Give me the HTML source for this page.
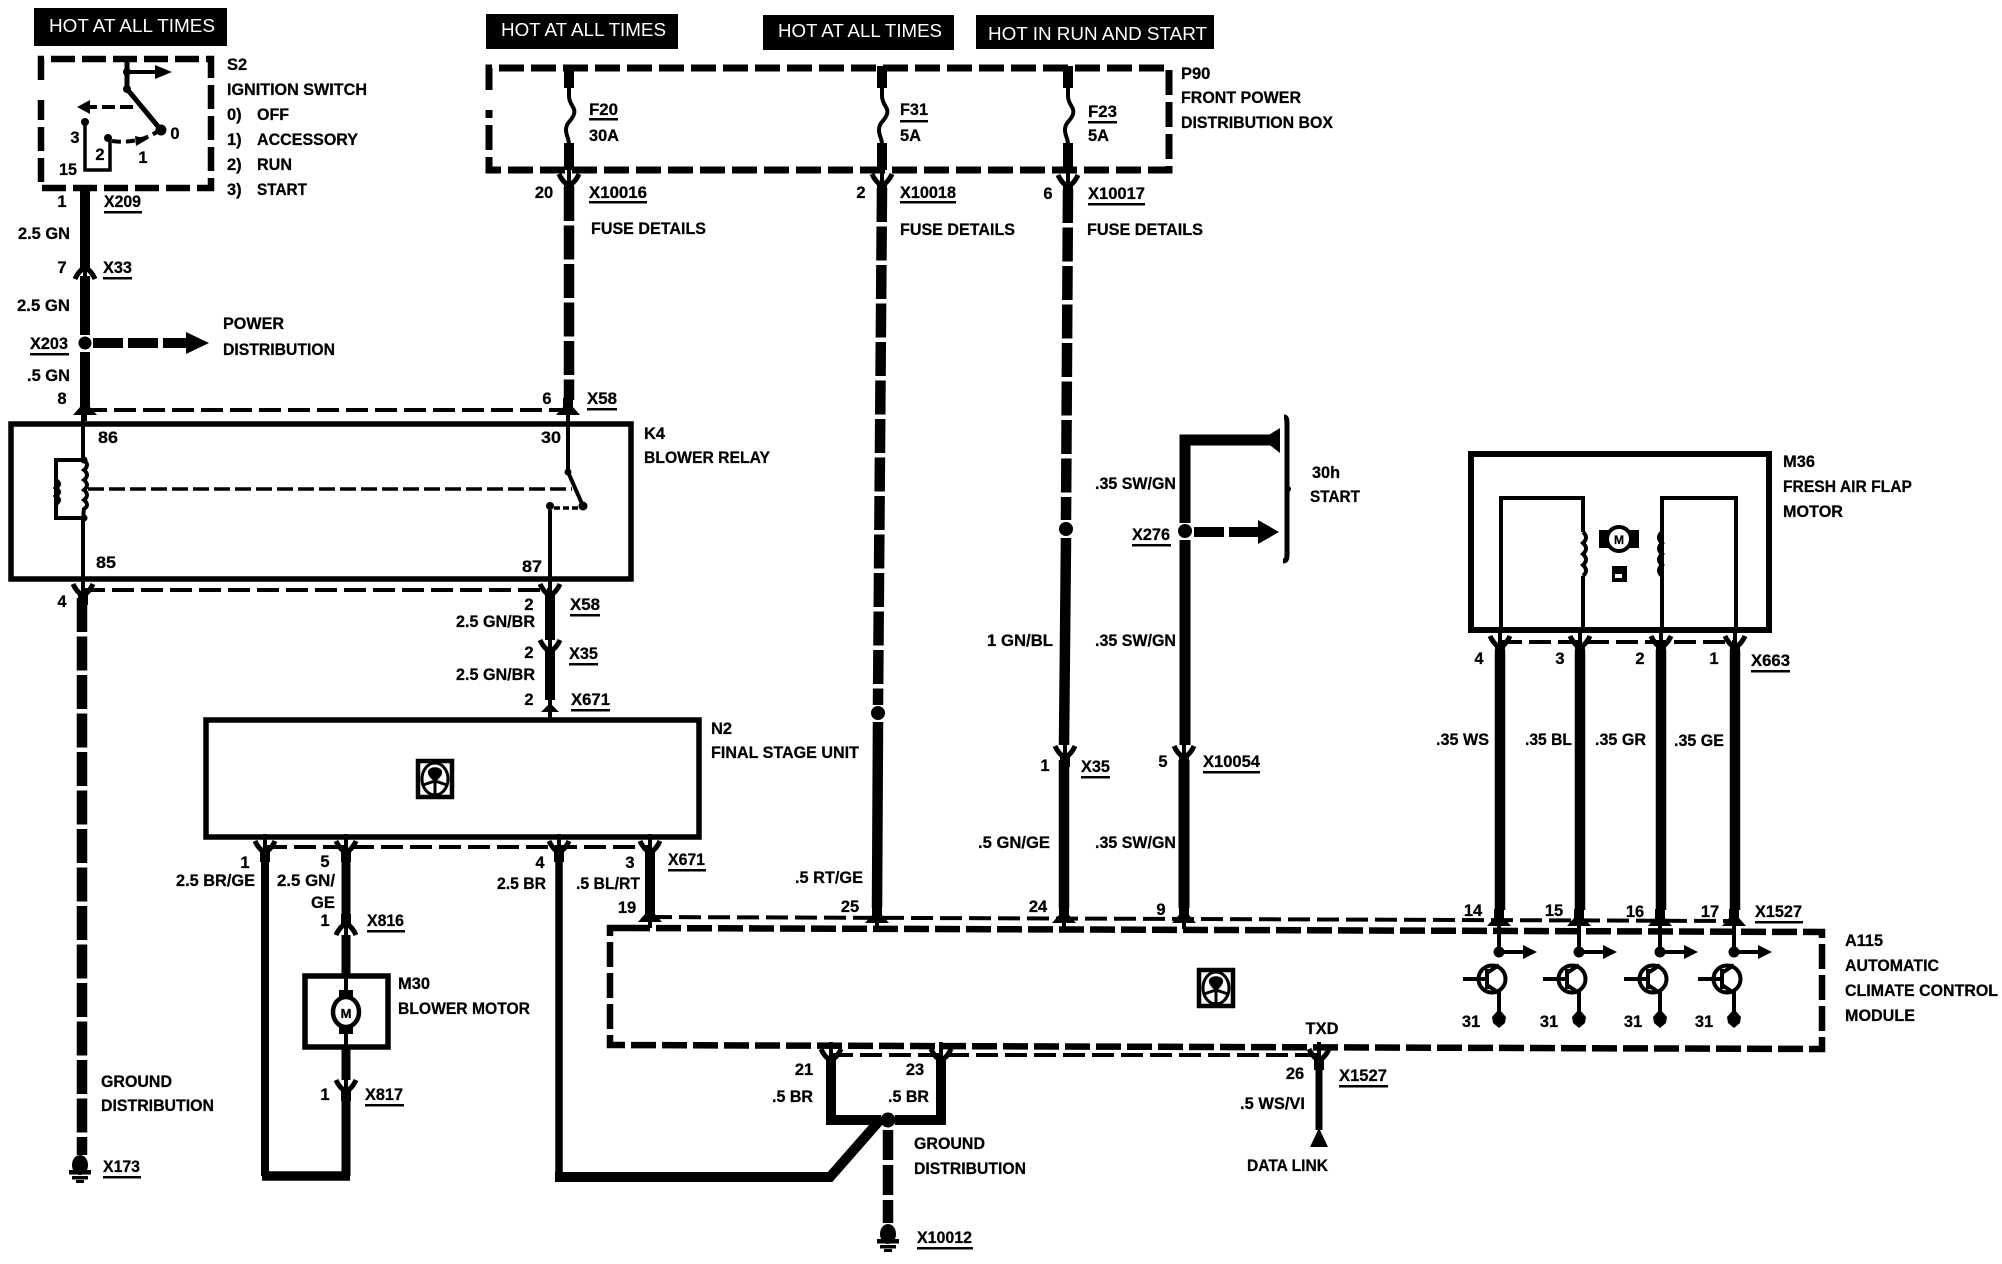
<!DOCTYPE html>
<html><head><meta charset="utf-8"><style>
html,body{margin:0;padding:0;background:#fff}
svg{display:block}
text{font-family:"Liberation Sans",sans-serif;font-size:16.5px;font-weight:bold;fill:#000;stroke:#000;stroke-width:.25px}
.m{text-anchor:middle}
.h{fill:#fff;stroke:none;font-weight:normal;font-size:18.5px}
.l{stroke:#000;fill:none}
</style></head><body>
<svg width="2002" height="1264" viewBox="0 0 2002 1264" xmlns="http://www.w3.org/2000/svg">
<defs>
<g id="v"><path class="l" stroke-width="5" d="M-10-7C-7 0-3 3 0 5 3 3 7 0 10-7"/><path class="l" stroke-width="4" d="M0-14V5"/><path class="l" stroke-width="10" d="M0 3V14"/></g>
<g id="a"><path class="l" stroke-width="5" d="M-10 7C-7 0-3-3 0-5 3-3 7 0 10 7"/><path class="l" stroke-width="10" d="M0-14V-3"/><path class="l" stroke-width="4" d="M0-5V14"/></g>
<g id="ft"><path d="M-5-12H5V-3L12 5H-12L-5-3Z"/><path class="l" stroke-width="4" d="M0 0V11"/></g>
<g id="gnd"><ellipse cx="0" cy="-3" rx="8" ry="10"/><rect x="-11" y="2" width="22" height="4.500"/><rect x="-8" y="8" width="16" height="3.500"/><rect x="-4" y="12" width="8" height="3"/></g>
<g id="ic"><rect x="-17" y="-18" width="34" height="36" fill="#fff" stroke="#000" stroke-width="4.500"/><ellipse cx="0" cy="0" rx="13" ry="16" fill="none" stroke="#000" stroke-width="3"/><path d="M-7-8C-5-13 5-13 7-8 8-3 2 1 0 3-2 1-8-3-7-8Z"/><path class="l" stroke-width="3" d="M-12 6L0 2L12 6M0 2V16"/></g>
<g id="tr"><path class="l" stroke-width="4" d="M0 0V24M0 66V90"/><circle cx="0" cy="29" r="5.500"/><path class="l" stroke-width="4" d="M0 29H28"/><path d="M24 22L38 29L24 36Z"/><circle cx="-7" cy="56" r="13.500" fill="#fff" stroke="#000" stroke-width="4"/><path class="l" stroke-width="4" d="M-36 56H-12M-12 46V66M-12 50L0 42M-12 62L0 70"/><path d="M0 86L7 94L6 100L0 105L-6 100L-7 94Z"/></g>
</defs>
<rect width="2002" height="1264" fill="#fff"/>

<!-- header boxes -->
<rect x="34" y="8" width="193" height="38"/>
<rect x="486" y="14" width="192" height="35"/>
<rect x="763" y="15" width="191" height="35"/>
<rect x="976" y="15" width="238" height="34"/>
<text class="h" x="49" y="32" textLength="166" lengthAdjust="spacingAndGlyphs">HOT AT ALL TIMES</text>
<text class="h" x="501" y="36" textLength="165" lengthAdjust="spacingAndGlyphs">HOT AT ALL TIMES</text>
<text class="h" x="778" y="37" textLength="164" lengthAdjust="spacingAndGlyphs">HOT AT ALL TIMES</text>
<text class="h" x="988" y="40" textLength="219" lengthAdjust="spacingAndGlyphs">HOT IN RUN AND START</text>

<!-- S2 -->
<path class="l" stroke-width="6.500" stroke-dasharray="24 7" d="M41 80V59H211V188H41V100"/>
<path class="l" stroke-width="5" d="M127 57V89L161 130"/>
<circle cx="127" cy="72" r="4"/><circle cx="127" cy="89" r="4"/><circle cx="161" cy="130" r="5.500"/>
<path class="l" stroke-width="4" d="M127 72H158"/><path d="M155 65L172 72L155 79Z"/>
<path class="l" stroke-width="4" stroke-dasharray="13 5" d="M133 107H88"/><path d="M90 100L77 107L90 114Z"/>
<path class="l" stroke-width="3.500" d="M85 122V170H110V138"/>
<circle cx="85" cy="122" r="4"/><circle cx="108" cy="138" r="4"/>
<path class="l" stroke-width="4" stroke-dasharray="9 5" d="M112 141C125 143 145 141 158 131"/>
<path d="M135 136L148 139L136 146Z"/>
<text class="m" x="175" y="139">0</text>
<text class="m" x="75" y="143">3</text>
<text class="m" x="100" y="160">2</text>
<text class="m" x="143" y="163">1</text>
<text x="59" y="175" textLength="18" lengthAdjust="spacingAndGlyphs">15</text>
<text x="227" y="70">S2</text>
<text x="227" y="95" textLength="140" lengthAdjust="spacingAndGlyphs">IGNITION SWITCH</text>
<text x="227" y="120">0)</text><text x="257" y="120" textLength="32" lengthAdjust="spacingAndGlyphs">OFF</text>
<text x="227" y="145">1)</text><text x="257" y="145" textLength="101" lengthAdjust="spacingAndGlyphs">ACCESSORY</text>
<text x="227" y="170">2)</text><text x="257" y="170" textLength="35" lengthAdjust="spacingAndGlyphs">RUN</text>
<text x="227" y="195">3)</text><text x="257" y="195" textLength="50" lengthAdjust="spacingAndGlyphs">START</text>

<!-- S2 wire -->
<path class="l" stroke-width="10" d="M85 186V266M85 276V335M85 352V398"/>
<use href="#a" x="85" y="272"/>
<circle cx="85" cy="343" r="6.500"/>
<path class="l" stroke-width="10" stroke-dasharray="30 5" d="M93 343H190"/>
<path d="M186 332L209 343L186 354Z"/>
<use href="#ft" x="85" y="410"/>
<text class="m" x="62" y="207">1</text>
<text x="104" y="207" textLength="37" lengthAdjust="spacingAndGlyphs">X209</text><rect x="104" y="211" width="38" height="2.500"/>
<text x="18" y="239" textLength="52" lengthAdjust="spacingAndGlyphs">2.5 GN</text>
<text class="m" x="62" y="273">7</text>
<text x="103" y="273" textLength="29" lengthAdjust="spacingAndGlyphs">X33</text><rect x="103" y="277" width="29" height="2.500"/>
<text x="17" y="311" textLength="53" lengthAdjust="spacingAndGlyphs">2.5 GN</text>
<text x="30" y="349" textLength="38" lengthAdjust="spacingAndGlyphs">X203</text><rect x="30" y="353" width="39" height="2.500"/>
<text x="223" y="329" textLength="61" lengthAdjust="spacingAndGlyphs">POWER</text>
<text x="223" y="355" textLength="112" lengthAdjust="spacingAndGlyphs">DISTRIBUTION</text>
<text x="27" y="381" textLength="43" lengthAdjust="spacingAndGlyphs">.5 GN</text>
<text class="m" x="62" y="404">8</text>

<!-- P90 -->
<path class="l" stroke-width="7" stroke-dasharray="25 7" d="M489 90V68H1169V170H489V110"/>
<path class="l" stroke-width="10" d="M569 66V88M569 143V170"/>
<path class="l" stroke-width="4" d="M569 88V96C569 105 576 107 574 114 572 121 566 122 566 130 566 136 569 138 569 145V176"/>
<path class="l" stroke-width="10" d="M882 66V88M882 143V170"/>
<path class="l" stroke-width="4" d="M882 88V96C882 105 889 107 887 114 885 121 879 122 879 130 879 136 882 138 882 145V176"/>
<path class="l" stroke-width="10" d="M1068 66V88M1068 143V170"/>
<path class="l" stroke-width="4" d="M1068 88V96C1068 105 1075 107 1073 114 1071 121 1065 122 1065 130 1065 136 1068 138 1068 145V176"/>
<use href="#v" x="569" y="181"/><use href="#v" x="882" y="181"/><use href="#v" x="1068" y="182"/>
<text x="589" y="115" textLength="29" lengthAdjust="spacingAndGlyphs">F20</text><rect x="589" y="118" width="29" height="2.500"/>
<text x="589" y="141" textLength="30" lengthAdjust="spacingAndGlyphs">30A</text>
<text x="900" y="115" textLength="28" lengthAdjust="spacingAndGlyphs">F31</text><rect x="900" y="120" width="28" height="2.500"/>
<text x="900" y="141" textLength="21" lengthAdjust="spacingAndGlyphs">5A</text>
<text x="1088" y="117" textLength="29" lengthAdjust="spacingAndGlyphs">F23</text><rect x="1088" y="121" width="29" height="2.500"/>
<text x="1088" y="141" textLength="21" lengthAdjust="spacingAndGlyphs">5A</text>
<text x="1181" y="79">P90</text>
<text x="1181" y="103" textLength="120" lengthAdjust="spacingAndGlyphs">FRONT POWER</text>
<text x="1181" y="128" textLength="152" lengthAdjust="spacingAndGlyphs">DISTRIBUTION BOX</text>
<text class="m" x="544" y="198">20</text>
<text x="589" y="198" textLength="58" lengthAdjust="spacingAndGlyphs">X10016</text><rect x="589" y="201" width="58" height="2.500"/>
<text x="591" y="234" textLength="115" lengthAdjust="spacingAndGlyphs">FUSE DETAILS</text>
<text class="m" x="861" y="198">2</text>
<text x="900" y="198" textLength="56" lengthAdjust="spacingAndGlyphs">X10018</text><rect x="900" y="201" width="56" height="2.500"/>
<text x="900" y="235" textLength="115" lengthAdjust="spacingAndGlyphs">FUSE DETAILS</text>
<text class="m" x="1048" y="199">6</text>
<text x="1088" y="199" textLength="57" lengthAdjust="spacingAndGlyphs">X10017</text><rect x="1088" y="203" width="57" height="2.500"/>
<text x="1087" y="235" textLength="116" lengthAdjust="spacingAndGlyphs">FUSE DETAILS</text>

<!-- long dashed wires -->
<path class="l" stroke-width="10.500" stroke-dasharray="34 4.500" d="M569 187V400"/>
<path class="l" stroke-width="10.500" stroke-dasharray="34 4.500" d="M882 188L878 705"/>
<path class="l" stroke-width="10.500" d="M878 722L877 908"/>
<circle cx="878" cy="713" r="7"/>
<path class="l" stroke-width="10.500" stroke-dasharray="34 4.500" d="M1068 189L1066 520"/>
<circle cx="1066" cy="529" r="7"/>
<path class="l" stroke-width="10.500" d="M1066 538L1064 745M1064 760L1064 908"/>
<use href="#v" x="1065" y="753"/>
<use href="#ft" x="877" y="918"/><use href="#ft" x="1064" y="918"/>
<text class="m" x="547" y="404">6</text>
<text x="587" y="404" textLength="30" lengthAdjust="spacingAndGlyphs">X58</text><rect x="587" y="408" width="30" height="2.500"/>
<use href="#ft" x="568" y="410"/>

<!-- thin dashed rails -->
<path class="l" stroke-width="4" stroke-dasharray="22 7" d="M85 410H568"/>
<path class="l" stroke-width="4" stroke-dasharray="22 7" d="M83 590H550"/>
<path class="l" stroke-width="4" stroke-dasharray="22 7" d="M265 847H650"/>
<path class="l" stroke-width="4" stroke-dasharray="22 7" d="M1500 642H1735"/>
<path class="l" stroke-width="4" stroke-dasharray="22 7" d="M650 917L1735 921"/>
<path class="l" stroke-width="4" stroke-dasharray="22 7" d="M831 1055H1319"/>

<!-- K4 -->
<rect x="11" y="424" width="620" height="155" fill="none" stroke="#000" stroke-width="5.500"/>
<path class="l" stroke-width="4" d="M83 412V460M83 518V586M568 412V472L583 506M550 510V586"/>
<path class="l" stroke-width="4" d="M85 460H56V518H85"/>
<path class="l" stroke-width="4" d="M84 460q6 5 0 10q6 5 0 10q6 5 0 10q6 5 0 10q6 5 0 9q-1 5 0 9"/>
<path class="l" stroke-width="4" d="M56 480q6 4 0 8q6 4 0 8q6 4 0 8"/>
<circle cx="84" cy="460" r="3.500"/><circle cx="84" cy="518" r="3.500"/><circle cx="568" cy="472" r="3.500"/>
<circle cx="583" cy="506" r="4.500"/><circle cx="550" cy="506" r="4"/>
<path class="l" stroke-width="3.500" stroke-dasharray="16 5" d="M88 489H572"/>
<path class="l" stroke-width="3.500" stroke-dasharray="6 3" d="M554 508H580"/>
<text x="98" y="443" textLength="20" lengthAdjust="spacingAndGlyphs">86</text>
<text x="541" y="443" textLength="20" lengthAdjust="spacingAndGlyphs">30</text>
<text x="96" y="568" textLength="20" lengthAdjust="spacingAndGlyphs">85</text>
<text x="522" y="572" textLength="20" lengthAdjust="spacingAndGlyphs">87</text>
<text x="644" y="439">K4</text>
<text x="644" y="463" textLength="126" lengthAdjust="spacingAndGlyphs">BLOWER RELAY</text>

<!-- lower K4 -->
<use href="#v" x="83" y="591"/>
<path class="l" stroke-width="10.500" stroke-dasharray="34 4.500" d="M82 598V1155"/>
<use href="#gnd" x="80" y="1168"/>
<text class="m" x="62" y="607">4</text>
<text x="103" y="1172" textLength="37" lengthAdjust="spacingAndGlyphs">X173</text><rect x="103" y="1176" width="38" height="2.500"/>
<text x="101" y="1087" textLength="71" lengthAdjust="spacingAndGlyphs">GROUND</text>
<text x="101" y="1111" textLength="113" lengthAdjust="spacingAndGlyphs">DISTRIBUTION</text>

<use href="#v" x="550" y="591"/>
<path class="l" stroke-width="10" d="M550 595V640M550 655V700"/>
<use href="#v" x="550" y="647"/>
<path class="l" stroke-width="4" d="M550 700V720"/>
<path d="M541 712C545 708 547 706 550 703 553 706 555 708 559 712Z"/>
<text class="m" x="529" y="610">2</text>
<text x="570" y="610" textLength="30" lengthAdjust="spacingAndGlyphs">X58</text><rect x="570" y="614" width="30" height="2.500"/>
<text x="456" y="627" textLength="79" lengthAdjust="spacingAndGlyphs">2.5 GN/BR</text>
<text class="m" x="529" y="658">2</text>
<text x="569" y="659" textLength="29" lengthAdjust="spacingAndGlyphs">X35</text><rect x="569" y="663" width="29" height="2.500"/>
<text x="456" y="680" textLength="79" lengthAdjust="spacingAndGlyphs">2.5 GN/BR</text>
<text class="m" x="529" y="705">2</text>
<text x="571" y="705" textLength="39" lengthAdjust="spacingAndGlyphs">X671</text><rect x="571" y="709" width="39" height="2.500"/>

<!-- N2 -->
<rect x="206" y="720" width="493" height="117" fill="none" stroke="#000" stroke-width="5.500"/>
<use href="#ic" x="435" y="779"/>
<text x="711" y="734">N2</text>
<text x="711" y="758" textLength="148" lengthAdjust="spacingAndGlyphs">FINAL STAGE UNIT</text>
<use href="#v" x="265" y="848"/><use href="#v" x="346" y="848"/><use href="#v" x="559" y="848"/><use href="#v" x="650" y="848"/>
<path class="l" stroke-width="8" d="M265 850V1176"/>
<path class="l" stroke-width="9" d="M346 852V915M346 935V975M346 1047V1080M346 1095V1176"/>
<path class="l" stroke-width="9.500" d="M262 1176H350"/>
<use href="#a" x="346" y="928"/>
<use href="#v" x="346" y="1087"/>
<path class="l" stroke-width="7.500" d="M559 850V1177"/>
<path class="l" stroke-width="10" d="M555 1177H830L880 1120"/>
<path class="l" stroke-width="10" d="M650 850V908"/>
<use href="#ft" x="650" y="917"/>
<text class="m" x="245" y="868">1</text>
<text x="176" y="886" textLength="79" lengthAdjust="spacingAndGlyphs">2.5 BR/GE</text>
<text class="m" x="325" y="867">5</text>
<text x="277" y="886" textLength="58" lengthAdjust="spacingAndGlyphs">2.5 GN/</text>
<text x="311" y="908" textLength="24" lengthAdjust="spacingAndGlyphs">GE</text>
<text class="m" x="325" y="926">1</text>
<text x="367" y="926" textLength="37" lengthAdjust="spacingAndGlyphs">X816</text><rect x="367" y="930" width="38" height="2.500"/>
<text class="m" x="540" y="868">4</text>
<text x="497" y="889" textLength="49" lengthAdjust="spacingAndGlyphs">2.5 BR</text>
<text class="m" x="630" y="868">3</text>
<text x="576" y="889" textLength="64" lengthAdjust="spacingAndGlyphs">.5 BL/RT</text>
<text class="m" x="627" y="913">19</text>
<text x="668" y="865" textLength="37" lengthAdjust="spacingAndGlyphs">X671</text><rect x="668" y="869" width="38" height="2.500"/>

<!-- M30 -->
<rect x="305" y="976" width="83" height="71" fill="none" stroke="#000" stroke-width="5.500"/>
<path class="l" stroke-width="4" d="M346 976V1047"/>
<rect x="339" y="990" width="14" height="44"/>
<ellipse cx="346" cy="1012" rx="13" ry="15" fill="#fff" stroke="#000" stroke-width="4.500"/>
<text class="m" x="346" y="1018" style="font-size:13px">M</text>
<text x="398" y="989" textLength="32" lengthAdjust="spacingAndGlyphs">M30</text>
<text x="398" y="1014" textLength="132" lengthAdjust="spacingAndGlyphs">BLOWER MOTOR</text>
<text class="m" x="325" y="1100">1</text>
<text x="365" y="1100" textLength="38" lengthAdjust="spacingAndGlyphs">X817</text><rect x="365" y="1104" width="39" height="2.500"/>

<!-- SW wire -->
<path class="l" stroke-width="11" d="M1270 440H1185V523M1185 540V745M1184 760V908"/>
<path d="M1262 439L1280 428V453Z"/>
<circle cx="1185" cy="531" r="7"/>
<path class="l" stroke-width="10" stroke-dasharray="30 5" d="M1194 532H1262"/>
<path d="M1258 520L1279 532L1258 544Z"/>
<use href="#v" x="1184" y="753"/><use href="#ft" x="1184" y="918"/>
<path class="l" stroke-width="5" d="M1284 417C1287 417 1287 420 1287 425V553C1287 558 1287 561 1283 561"/>
<circle cx="1288" cy="489" r="3"/>
<text x="1312" y="478" textLength="28" lengthAdjust="spacingAndGlyphs">30h</text>
<text x="1310" y="502" textLength="50" lengthAdjust="spacingAndGlyphs">START</text>
<text x="1095" y="489" textLength="81" lengthAdjust="spacingAndGlyphs">.35 SW/GN</text>
<text x="1132" y="540" textLength="38" lengthAdjust="spacingAndGlyphs">X276</text><rect x="1132" y="544" width="39" height="2.500"/>
<text x="1095" y="646" textLength="81" lengthAdjust="spacingAndGlyphs">.35 SW/GN</text>
<text x="1095" y="848" textLength="81" lengthAdjust="spacingAndGlyphs">.35 SW/GN</text>
<text x="987" y="646" textLength="66" lengthAdjust="spacingAndGlyphs">1 GN/BL</text>
<text x="978" y="848" textLength="72" lengthAdjust="spacingAndGlyphs">.5 GN/GE</text>
<text x="795" y="883" textLength="68" lengthAdjust="spacingAndGlyphs">.5 RT/GE</text>
<text class="m" x="1045" y="771">1</text>
<text x="1081" y="772" textLength="29" lengthAdjust="spacingAndGlyphs">X35</text><rect x="1081" y="776" width="29" height="2.500"/>
<text class="m" x="1163" y="767">5</text>
<text x="1203" y="767" textLength="57" lengthAdjust="spacingAndGlyphs">X10054</text><rect x="1203" y="771" width="57" height="2.500"/>
<text class="m" x="850" y="912">25</text>
<text class="m" x="1038" y="912">24</text>
<text class="m" x="1161" y="915">9</text>

<!-- M36 -->
<rect x="1471" y="454" width="298" height="176" fill="none" stroke="#000" stroke-width="6"/>
<path class="l" stroke-width="4" d="M1501 630V498H1583V532M1583 576V630M1662 630V498H1736V630"/>
<path class="l" stroke-width="4" d="M1583 532q6 5.500 0 11q6 5.500 0 11q6 5.500 0 11q6 5.500 0 11"/>
<path class="l" stroke-width="4" d="M1662 532q-6 5.500 0 11q-6 5.500 0 11q-6 5.500 0 11q-6 5.500 0 11"/>
<rect x="1599" y="530" width="40" height="18"/>
<circle cx="1619" cy="539" r="12" fill="#fff" stroke="#000" stroke-width="4"/>
<text class="m" x="1619" y="544" style="font-size:12px">M</text>
<rect x="1612" y="566" width="15" height="16"/><rect x="1615" y="574" width="7" height="4" fill="#fff"/>
<text x="1783" y="467" textLength="32" lengthAdjust="spacingAndGlyphs">M36</text>
<text x="1783" y="492" textLength="129" lengthAdjust="spacingAndGlyphs">FRESH AIR FLAP</text>
<text x="1783" y="517" textLength="60" lengthAdjust="spacingAndGlyphs">MOTOR</text>
<use href="#v" x="1500" y="643"/><use href="#v" x="1580" y="643"/><use href="#v" x="1661" y="643"/><use href="#v" x="1735" y="643"/>
<path class="l" stroke-width="10.500" d="M1500 650V910M1580 650V910M1661 650V910M1735 650V910"/>
<use href="#ft" x="1499" y="921"/><use href="#ft" x="1579" y="921"/><use href="#ft" x="1660" y="921"/><use href="#ft" x="1734" y="921"/>
<text class="m" x="1479" y="664">4</text><text class="m" x="1560" y="664">3</text><text class="m" x="1640" y="664">2</text><text class="m" x="1714" y="664">1</text>
<text x="1751" y="666" textLength="39" lengthAdjust="spacingAndGlyphs">X663</text><rect x="1751" y="670" width="39" height="2.500"/>
<text x="1436" y="745" textLength="53" lengthAdjust="spacingAndGlyphs">.35 WS</text>
<text x="1525" y="745" textLength="47" lengthAdjust="spacingAndGlyphs">.35 BL</text>
<text x="1595" y="745" textLength="51" lengthAdjust="spacingAndGlyphs">.35 GR</text>
<text x="1674" y="746" textLength="50" lengthAdjust="spacingAndGlyphs">.35 GE</text>
<text class="m" x="1473" y="916">14</text><text class="m" x="1554" y="916">15</text><text class="m" x="1635" y="917">16</text><text class="m" x="1710" y="917">17</text>
<text x="1755" y="917" textLength="47" lengthAdjust="spacingAndGlyphs">X1527</text><rect x="1755" y="921" width="48" height="2.500"/>

<!-- A115 -->
<path class="l" stroke-width="6.500" stroke-dasharray="25 6" d="M625 928L1822 932V1049L610 1045V928H625"/>
<use href="#ic" x="1216" y="988"/>
<use href="#tr" x="1499" y="923"/><use href="#tr" x="1579" y="923"/><use href="#tr" x="1660" y="923"/><use href="#tr" x="1734" y="923"/>
<text class="m" x="1471" y="1027">31</text><text class="m" x="1549" y="1027">31</text><text class="m" x="1633" y="1027">31</text><text class="m" x="1704" y="1027">31</text>
<text x="1845" y="946" textLength="38" lengthAdjust="spacingAndGlyphs">A115</text>
<text x="1845" y="971" textLength="94" lengthAdjust="spacingAndGlyphs">AUTOMATIC</text>
<text x="1845" y="996" textLength="153" lengthAdjust="spacingAndGlyphs">CLIMATE CONTROL</text>
<text x="1845" y="1021" textLength="70" lengthAdjust="spacingAndGlyphs">MODULE</text>
<text class="m" x="1322" y="1034">TXD</text>

<!-- bottom of A115 -->
<use href="#v" x="831" y="1056"/><use href="#v" x="941" y="1056"/><use href="#v" x="1319" y="1056"/>
<path class="l" stroke-width="10" d="M831 1060V1120H881M895 1120H941V1060"/>
<circle cx="888" cy="1120" r="7.500"/>
<path class="l" stroke-width="10.500" stroke-dasharray="30 5" d="M888 1130V1223"/>
<use href="#gnd" x="888" y="1237"/>
<path class="l" stroke-width="7" d="M1319 1062V1130"/>
<path d="M1319 1128L1328 1147H1310Z"/>
<text class="m" x="804" y="1075">21</text>
<text x="772" y="1102" textLength="41" lengthAdjust="spacingAndGlyphs">.5 BR</text>
<text class="m" x="915" y="1075">23</text>
<text x="888" y="1102" textLength="41" lengthAdjust="spacingAndGlyphs">.5 BR</text>
<text x="914" y="1149" textLength="71" lengthAdjust="spacingAndGlyphs">GROUND</text>
<text x="914" y="1174" textLength="112" lengthAdjust="spacingAndGlyphs">DISTRIBUTION</text>
<text x="917" y="1243" textLength="55" lengthAdjust="spacingAndGlyphs">X10012</text><rect x="917" y="1247" width="56" height="2.500"/>
<text class="m" x="1295" y="1079">26</text>
<text x="1339" y="1081" textLength="48" lengthAdjust="spacingAndGlyphs">X1527</text><rect x="1339" y="1085" width="49" height="2.500"/>
<text x="1240" y="1109" textLength="65" lengthAdjust="spacingAndGlyphs">.5 WS/VI</text>
<text x="1247" y="1171" textLength="81" lengthAdjust="spacingAndGlyphs">DATA LINK</text>
</svg>
</body></html>
